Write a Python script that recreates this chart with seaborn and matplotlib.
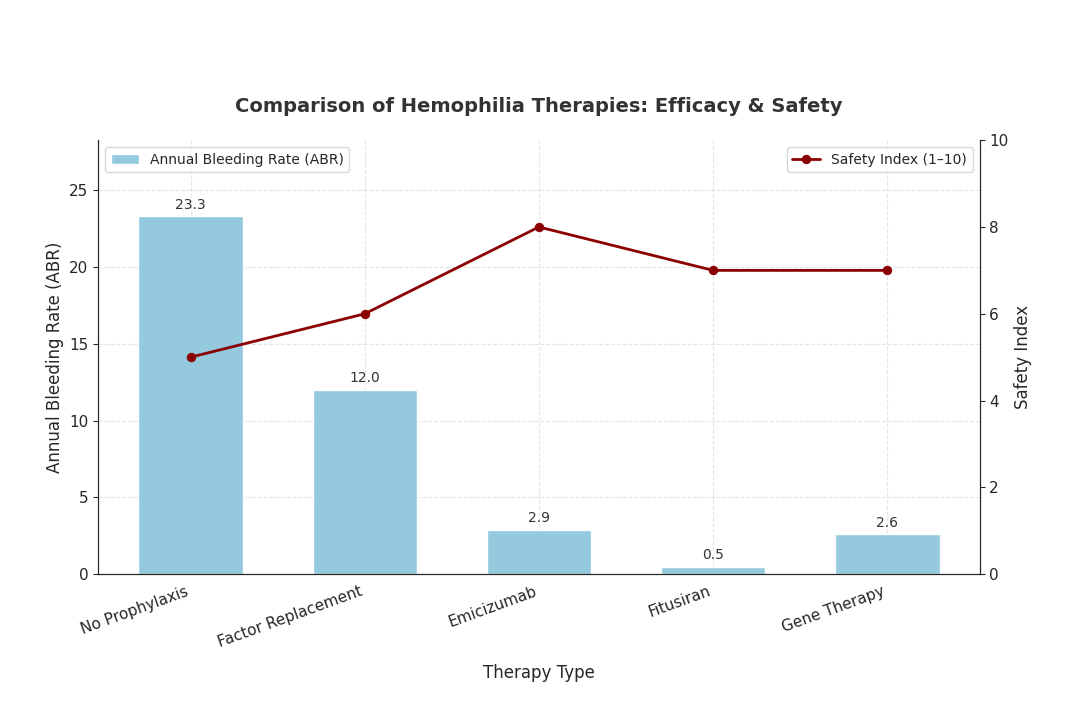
import seaborn as sns
import matplotlib.pyplot as plt
import pandas as pd

therapies = ["No Prophylaxis", "Factor Replacement", "Emicizumab", "Fitusiran", "Gene Therapy"]
abr = [23.3, 12.0, 2.9, 0.5, 2.6]
safety = [5, 6, 8, 7, 7]

df = pd.DataFrame({"Therapy": therapies, "ABR": abr, "Safety": safety})

sns.set_style("white")
fig, ax = plt.subplots(figsize=(10.8, 7.08), dpi=100)
fig.subplots_adjust(left=0.091, right=0.907, top=0.802, bottom=0.189)

sns.barplot(data=df, x="Therapy", y="ABR", color="skyblue", width=0.6, ax=ax,
            label="Annual Bleeding Rate (ABR)")
for i, v in enumerate(abr):
    ax.text(i, v + 0.3, f"{v:.1f}", ha="center", va="bottom", fontsize=10, color="#333333")
ax.set_ylim(0, 28.25)
ax.set_ylabel("Annual Bleeding Rate (ABR)", fontsize=12)
ax.set_xlabel("Therapy Type", fontsize=12, labelpad=10)
ax.grid(True, linestyle="--", alpha=0.5)
ax.set_axisbelow(True)
plt.setp(ax.get_xticklabels(), rotation=20, ha="right", fontsize=11)
ax.tick_params(axis="y", labelsize=11)
ax.legend(loc="upper left", fontsize=10)

ax2 = ax.twinx()
sns.lineplot(data=df, x="Therapy", y="Safety", color="darkred", marker="o", linewidth=2,
             markeredgecolor="darkred", ax=ax2, label="Safety Index (1–10)")
ax2.set_ylim(0, 10)
ax2.set_ylabel("Safety Index", fontsize=12)
ax2.tick_params(axis="y", labelsize=11)
ax2.legend(loc="upper right", fontsize=10)
for a in (ax, ax2):
    a.spines["top"].set_visible(False)

ax.set_title("Comparison of Hemophilia Therapies: Efficacy & Safety", fontsize=14,
             fontweight="bold", color="#333333", pad=20)
fig.savefig("out.png")
